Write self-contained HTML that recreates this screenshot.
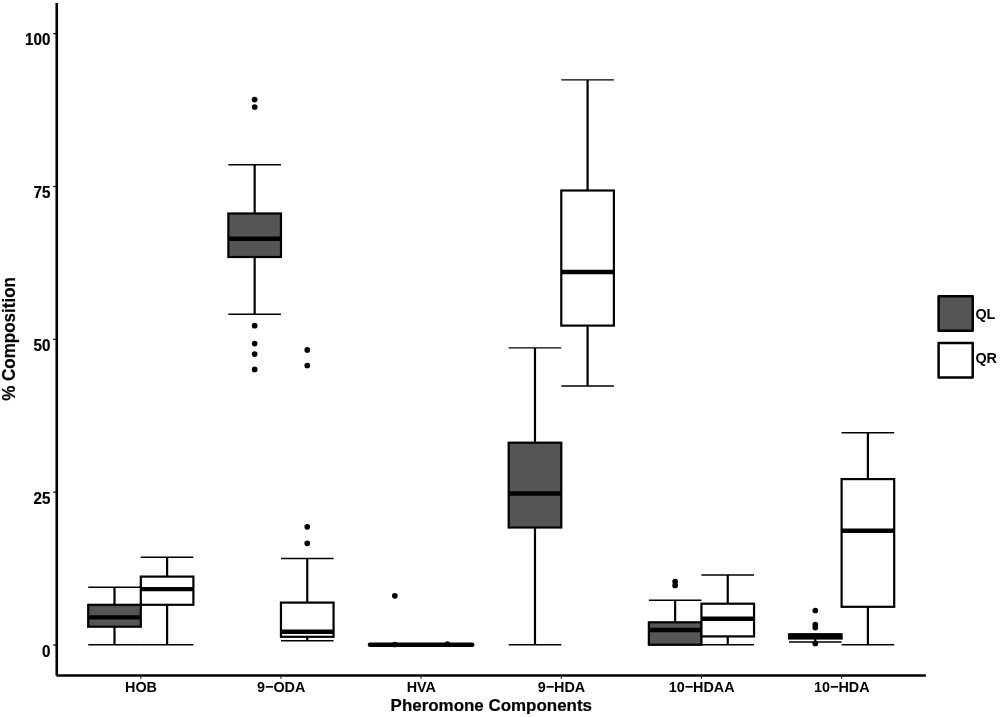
<!DOCTYPE html>
<html lang="en"><head><meta charset="utf-8"><title>Pheromone Components boxplot</title>
<style>
html,body{margin:0;padding:0;background:#fff;}
svg{display:block;}
text{font-family:"Liberation Sans",Arial,Helvetica,sans-serif;font-weight:bold;fill:#000;}
</style></head><body>
<svg width="1000" height="717" viewBox="0 0 1000 717">
<rect width="1000" height="717" fill="#fff"/>
<g>
<path d="M88.20 587.30H140.80M88.20 644.70H140.80" stroke="#000" stroke-width="1.4" fill="none"/>
<path d="M114.50 587.30V604.80M114.50 626.70V644.70" stroke="#000" stroke-width="2.2" fill="none"/>
<rect x="88.20" y="604.80" width="52.60" height="21.90" fill="#555555" stroke="#000" stroke-width="2.2"/>
<path d="M88.20 617.40H140.80" stroke="#000" stroke-width="4.4" fill="none"/>
<path d="M140.80 557.20H193.40M140.80 644.70H193.40" stroke="#000" stroke-width="1.4" fill="none"/>
<path d="M167.10 557.20V576.60M167.10 604.80V644.70" stroke="#000" stroke-width="2.2" fill="none"/>
<rect x="140.80" y="576.60" width="52.60" height="28.20" fill="#fff" stroke="#000" stroke-width="2.2"/>
<path d="M140.80 589.10H193.40" stroke="#000" stroke-width="4.4" fill="none"/>
<path d="M228.36 164.80H280.96M228.36 314.20H280.96" stroke="#000" stroke-width="1.4" fill="none"/>
<path d="M254.66 164.80V213.50M254.66 257.00V314.20" stroke="#000" stroke-width="2.2" fill="none"/>
<rect x="228.36" y="213.50" width="52.60" height="43.50" fill="#555555" stroke="#000" stroke-width="2.2"/>
<path d="M228.36 238.80H280.96" stroke="#000" stroke-width="4.4" fill="none"/>
<circle cx="254.66" cy="99.60" r="2.85" fill="#000"/>
<circle cx="254.66" cy="107.00" r="2.85" fill="#000"/>
<circle cx="254.66" cy="325.70" r="2.85" fill="#000"/>
<circle cx="254.66" cy="343.60" r="2.85" fill="#000"/>
<circle cx="254.66" cy="354.10" r="2.85" fill="#000"/>
<circle cx="254.66" cy="369.40" r="2.85" fill="#000"/>
<path d="M280.96 558.50H333.56M280.96 640.80H333.56" stroke="#000" stroke-width="1.4" fill="none"/>
<path d="M307.26 558.50V602.60M307.26 636.80V640.80" stroke="#000" stroke-width="2.2" fill="none"/>
<rect x="280.96" y="602.60" width="52.60" height="34.20" fill="#fff" stroke="#000" stroke-width="2.2"/>
<path d="M280.96 631.70H333.56" stroke="#000" stroke-width="4.4" fill="none"/>
<circle cx="307.26" cy="349.90" r="2.85" fill="#000"/>
<circle cx="307.26" cy="365.50" r="2.85" fill="#000"/>
<circle cx="307.26" cy="526.80" r="2.85" fill="#000"/>
<circle cx="307.26" cy="543.30" r="2.85" fill="#000"/>
<path d="M370.02 644.7H472.22" stroke="#000" stroke-width="4.6" stroke-linecap="round" fill="none"/>
<circle cx="394.82" cy="595.8" r="2.85" fill="#000"/>
<circle cx="394.82" cy="644.5" r="2.85" fill="#000"/>
<circle cx="447.42" cy="644.0" r="2.7" fill="#000"/>
<path d="M508.68 347.90H561.28M508.68 644.70H561.28" stroke="#000" stroke-width="1.4" fill="none"/>
<path d="M534.98 347.90V442.70M534.98 527.50V644.70" stroke="#000" stroke-width="2.2" fill="none"/>
<rect x="508.68" y="442.70" width="52.60" height="84.80" fill="#555555" stroke="#000" stroke-width="2.2"/>
<path d="M508.68 493.50H561.28" stroke="#000" stroke-width="4.4" fill="none"/>
<path d="M561.28 79.90H613.88M561.28 386.00H613.88" stroke="#000" stroke-width="1.4" fill="none"/>
<path d="M587.58 79.90V190.50M587.58 325.60V386.00" stroke="#000" stroke-width="2.2" fill="none"/>
<rect x="561.28" y="190.50" width="52.60" height="135.10" fill="#fff" stroke="#000" stroke-width="2.2"/>
<path d="M561.28 272.00H613.88" stroke="#000" stroke-width="4.4" fill="none"/>
<path d="M648.84 600.30H701.44M648.84 644.70H701.44" stroke="#000" stroke-width="1.4" fill="none"/>
<path d="M675.14 600.30V622.30M675.14 644.70V644.70" stroke="#000" stroke-width="2.2" fill="none"/>
<rect x="648.84" y="622.30" width="52.60" height="22.40" fill="#555555" stroke="#000" stroke-width="2.2"/>
<path d="M648.84 630.00H701.44" stroke="#000" stroke-width="4.4" fill="none"/>
<circle cx="675.14" cy="581.70" r="2.85" fill="#000"/>
<circle cx="675.14" cy="585.50" r="2.85" fill="#000"/>
<path d="M701.44 575.00H754.04M701.44 644.70H754.04" stroke="#000" stroke-width="1.4" fill="none"/>
<path d="M727.74 575.00V603.70M727.74 636.40V644.70" stroke="#000" stroke-width="2.2" fill="none"/>
<rect x="701.44" y="603.70" width="52.60" height="32.70" fill="#fff" stroke="#000" stroke-width="2.2"/>
<path d="M701.44 618.80H754.04" stroke="#000" stroke-width="4.4" fill="none"/>
<path d="M789.00 634.00H841.60M789.00 642.00H841.60" stroke="#000" stroke-width="1.4" fill="none"/>
<path d="M815.30 634.00V634.50M815.30 638.50V642.00" stroke="#000" stroke-width="2.2" fill="none"/>
<rect x="789.00" y="634.50" width="52.60" height="4.00" fill="#555555" stroke="#000" stroke-width="2.2"/>
<path d="M789.00 636.30H841.60" stroke="#000" stroke-width="4.4" fill="none"/>
<circle cx="815.30" cy="610.50" r="2.85" fill="#000"/>
<circle cx="815.30" cy="624.50" r="2.85" fill="#000"/>
<circle cx="815.30" cy="627.60" r="2.85" fill="#000"/>
<circle cx="815.30" cy="643.50" r="2.85" fill="#000"/>
<path d="M841.60 432.80H894.20M841.60 644.70H894.20" stroke="#000" stroke-width="1.4" fill="none"/>
<path d="M867.90 432.80V479.10M867.90 606.80V644.70" stroke="#000" stroke-width="2.2" fill="none"/>
<rect x="841.60" y="479.10" width="52.60" height="127.70" fill="#fff" stroke="#000" stroke-width="2.2"/>
<path d="M841.60 530.70H894.20" stroke="#000" stroke-width="4.4" fill="none"/>
</g>
<g>
<path d="M56.75 3.1V675.6" stroke="#000" stroke-width="2.6" fill="none"/>
<path d="M56.4 675.45H925.8" stroke="#000" stroke-width="2.65" fill="none"/>
<path d="M53.2 645.00H56" stroke="#111" stroke-width="1.3"/>
<path d="M53.2 492.18H56" stroke="#111" stroke-width="1.3"/>
<path d="M53.2 339.35H56" stroke="#111" stroke-width="1.3"/>
<path d="M53.2 186.53H56" stroke="#111" stroke-width="1.3"/>
<path d="M53.2 33.70H56" stroke="#111" stroke-width="1.3"/>
<path d="M140.80 676V678.8" stroke="#222" stroke-width="1.1"/>
<path d="M280.96 676V678.8" stroke="#222" stroke-width="1.1"/>
<path d="M421.12 676V678.8" stroke="#222" stroke-width="1.1"/>
<path d="M561.28 676V678.8" stroke="#222" stroke-width="1.1"/>
<path d="M701.44 676V678.8" stroke="#222" stroke-width="1.1"/>
<path d="M841.60 676V678.8" stroke="#222" stroke-width="1.1"/>
</g>
<g>
<text transform="translate(50.40 656.50) scale(1 1.05)" text-anchor="end" font-size="15.2" stroke="#000" stroke-width="0.2">0</text>
<text transform="translate(50.40 503.68) scale(1 1.05)" text-anchor="end" font-size="15.2" stroke="#000" stroke-width="0.2">25</text>
<text transform="translate(50.40 350.85) scale(1 1.05)" text-anchor="end" font-size="15.2" stroke="#000" stroke-width="0.2">50</text>
<text transform="translate(50.40 198.03) scale(1 1.05)" text-anchor="end" font-size="15.2" stroke="#000" stroke-width="0.2">75</text>
<text transform="translate(50.40 45.20) scale(1 1.05)" text-anchor="end" font-size="15.2" stroke="#000" stroke-width="0.2">100</text>
<text transform="translate(141.00 692.20) scale(1 1.075)" text-anchor="middle" font-size="14.4">HOB</text>
<text transform="translate(281.16 692.20) scale(1 1.075)" text-anchor="middle" font-size="14.4">9−ODA</text>
<text transform="translate(421.32 692.20) scale(1 1.075)" text-anchor="middle" font-size="14.4">HVA</text>
<text transform="translate(561.48 692.20) scale(1 1.075)" text-anchor="middle" font-size="14.4">9−HDA</text>
<text transform="translate(701.64 692.20) scale(1 1.075)" text-anchor="middle" font-size="14.4">10−HDAA</text>
<text transform="translate(841.80 692.20) scale(1 1.075)" text-anchor="middle" font-size="14.4">10−HDA</text>
<text transform="translate(491.30 710.60) scale(1 1.02)" text-anchor="middle" font-size="16.95" stroke="#000" stroke-width="0.2">Pheromone Components</text>
<text transform="translate(15.30 338.90) rotate(-90) scale(1 1.03)" text-anchor="middle" font-size="17" stroke="#000" stroke-width="0.2">% Composition</text>
</g>
<g>
<rect x="938.6" y="296.25" width="34.1" height="34.5" fill="#555555" stroke="#000" stroke-width="2.5" stroke-linejoin="round"/>
<rect x="938.6" y="343.1" width="34.1" height="34.4" fill="#fff" stroke="#000" stroke-width="2.5" stroke-linejoin="round"/>
<text transform="translate(975.40 318.90) scale(1 1.075)" text-anchor="start" font-size="14.4">QL</text>
<text transform="translate(975.40 363.20) scale(1 1.075)" text-anchor="start" font-size="14.4">QR</text>
</g>
</svg>
</body></html>
